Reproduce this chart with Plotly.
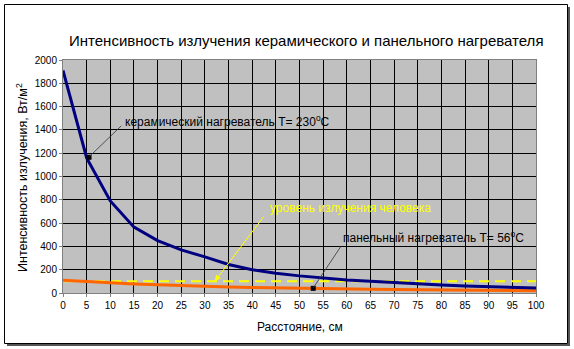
import plotly.graph_objects as go

distance_cm = [0, 5, 10, 15, 20, 25, 30, 35, 40, 45, 50, 55, 60, 65, 70, 75, 80, 85, 90, 95, 100]
ceramic = [1910, 1160, 790, 565, 450, 370, 310, 245, 200, 170, 147, 128, 112, 100, 88, 78, 68, 60, 52, 46, 42]
panel = [110, 97, 87, 78, 70, 63, 57, 51, 47, 43, 40, 37, 34, 32, 30, 28, 26, 24, 23, 21, 20]
human_level = [100] * len(distance_cm)

marker_x = [5.5, 52.9]
marker_y = [1165, 40]

title_text = "Интенсивность излучения керамического и панельного нагревателя"
x_title = "Расстояние, см"
y_title = "Интенсивность излучения, Вт/м<sup>2</sup>"
lbl_ceramic = "керамический нагреватель T= 230<sup>o</sup>C"
lbl_panel = "панельный нагреватель T= 56<sup>o</sup>C"
lbl_human = "уровень излучения человека"

W, H = 574, 349
L, R, T, B = 63, 38, 60, 56
pw, ph = W - L - R, H - T - B

def px(xp):
    return (xp - L) / pw

def py(yp):
    return (H - B - yp) / ph

FONT = "Liberation Sans, Arial, sans-serif"

fig = go.Figure()
fig.add_trace(go.Scatter(x=distance_cm, y=human_level, mode="lines",
                         line=dict(color="#FFFF00", width=2, dash="10px,6px"), hoverinfo="skip"))
fig.add_trace(go.Scatter(x=distance_cm, y=panel, mode="lines",
                         line=dict(color="#FF6600", width=3), hoverinfo="skip"))
fig.add_trace(go.Scatter(x=distance_cm, y=ceramic, mode="lines",
                         line=dict(color="#000080", width=3), hoverinfo="skip"))
fig.add_trace(go.Scatter(x=marker_x, y=marker_y, mode="markers",
                         marker=dict(symbol="square", size=5, color="#000000"), hoverinfo="skip"))

annotations = [
    dict(x=12.7, y=1477, xref="x", yref="y", text=lbl_ceramic, showarrow=False,
         xanchor="left", yanchor="middle", font=dict(size=12, color="#000000", family=FONT)),
    dict(x=43.3, y=730, xref="x", yref="y", text=lbl_human, showarrow=False,
         xanchor="left", yanchor="middle", font=dict(size=12, color="#FFFF00", family=FONT)),
    dict(x=32.1, y=100, ax=42.7, ay=670, xref="x", yref="y", axref="x", ayref="y", text=" ",
         showarrow=True, arrowhead=2, arrowsize=1.2, arrowwidth=1, arrowcolor="#FFFF00", standoff=0,
         font=dict(size=1)),
    dict(x=58.8, y=481, xref="x", yref="y", text=lbl_panel, showarrow=False,
         xanchor="left", yanchor="middle", font=dict(size=12, color="#000000", family=FONT)),
    dict(x=px(306), y=py(40), xref="paper", yref="paper", text=title_text, showarrow=False,
         xanchor="center", yanchor="middle", font=dict(size=15, color="#000000", family=FONT)),
    dict(x=px(300), y=py(327), xref="paper", yref="paper", text=x_title, showarrow=False,
         xanchor="center", yanchor="middle", font=dict(size=12, color="#000000", family=FONT)),
    dict(x=px(22), y=py(178), xref="paper", yref="paper", text=y_title, showarrow=False,
         textangle=-90, xanchor="center", yanchor="middle", font=dict(size=12.5, color="#000000", family=FONT)),
]

shapes = [
    dict(type="line", xref="x", yref="y", x0=12.3, y0=1434, x1=5.5, y1=1168,
         line=dict(color="#333333", width=0.8)),
    dict(type="line", xref="x", yref="y", x0=58.8, y0=403, x1=52.9, y1=43,
         line=dict(color="#333333", width=0.8)),
    dict(type="line", xref="paper", yref="paper", x0=px(569), x1=px(569), y0=py(7), y1=py(345),
         line=dict(color="#555555", width=2)),
    dict(type="line", xref="paper", yref="paper", x0=px(7), x1=px(570), y0=py(345), y1=py(345),
         line=dict(color="#555555", width=2)),
    dict(type="rect", xref="paper", yref="paper", x0=px(4.5), x1=px(567.5), y0=py(4.5), y1=py(343.5),
         line=dict(color="#000000", width=1), fillcolor="rgba(0,0,0,0)"),
]

fig.update_layout(
    width=W, height=H,
    margin=dict(l=L, r=R, t=T, b=B),
    paper_bgcolor="#FFFFFF", plot_bgcolor="#C0C0C0",
    showlegend=False,
    font=dict(family=FONT, size=10, color="#000000"),
    annotations=annotations, shapes=shapes,
    xaxis=dict(range=[0, 100], tickvals=list(range(0, 101, 5)), showgrid=True,
               gridcolor="#000000", gridwidth=1, zeroline=False, showline=True,
               linecolor="#808080", linewidth=1, mirror=True, ticks="outside", ticklen=3,
               tickcolor="#808080", tickfont=dict(size=10, family=FONT)),
    yaxis=dict(range=[0, 2000], tickvals=list(range(0, 2001, 200)), showgrid=True,
               gridcolor="#000000", gridwidth=1, zeroline=False, showline=True,
               linecolor="#808080", linewidth=1, mirror=True, ticks="outside", ticklen=3,
               tickcolor="#808080", tickfont=dict(size=10, family=FONT)),
)

fig.write_html("out.html")
